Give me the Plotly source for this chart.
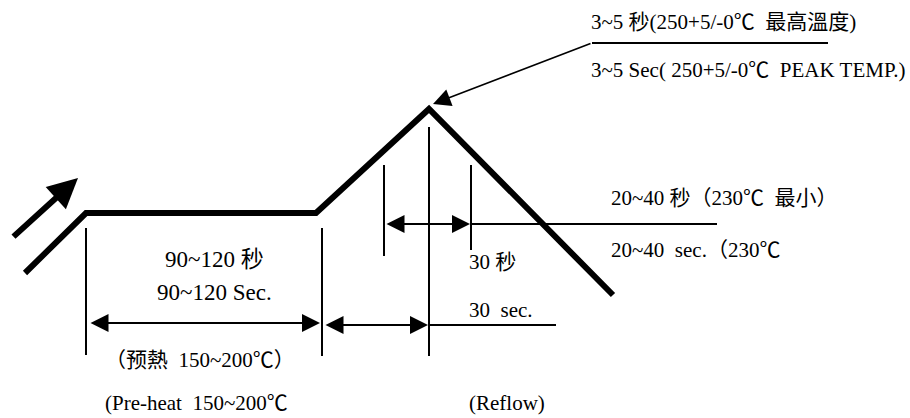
import plotly.graph_objects as go

# ---- diagram data (diagram units: x = time axis, y = temperature axis, drawn top-down) ----
profile_x = [25, 86, 316, 429, 613]
profile_y = [273, 213, 213, 109, 295]

rise_arrow_x = [12, 78]
rise_arrow_y = [238, 178]

# vertical reference lines
ref_x = [86, 322, 384, 429, 471]
ref_top = [228, 228, 165, 127, 165]
ref_bottom = [355, 356, 256, 356, 250]

# dimension arrows (start x, end x, y)
dim_x0 = [89, 324, 385]
dim_x1 = [320, 428, 470]
dim_y = [323, 325, 224]

# leader / extension lines
lead_x0 = [429, 471, 592]
lead_x1 = [556, 717, 828]
lead_y = [325, 224, 43]

peak_leader_tail = (592, 43)
peak_leader_tip = (433, 104)

# labels
label_text = [
    "3~5 秒(250+5/-0℃  最高溫度)",
    "3~5 Sec( 250+5/-0℃  PEAK TEMP.)",
    "20~40 秒（230℃  最小）",
    "20~40  sec.（230℃",
    "30 秒",
    "30  sec.",
    "(Reflow)",
    "（预熱  150~200℃）",
    "(Pre-heat  150~200℃",
]
label_x = [589, 589, 609, 609, 467, 467, 467, 103, 103]
label_y = [22, 70, 198, 250, 262, 310, 403, 360, 403]

center_text = ["90~120 秒", "90~120 Sec."]
center_x = [214, 214]
center_y = [259, 292]

FONT = "Liberation Serif, Noto Sans CJK SC, serif"

fig = go.Figure()

# profile
fig.add_trace(go.Scatter(x=profile_x, y=profile_y, mode="lines",
                         line=dict(color="black", width=6), hoverinfo="skip"))

shapes = []
for x, t, b in zip(ref_x, ref_top, ref_bottom):
    shapes.append(dict(type="line", xref="x", yref="y", x0=x, x1=x, y0=t, y1=b,
                       line=dict(color="black", width=2)))
for x0, x1, y in zip(lead_x0, lead_x1, lead_y):
    shapes.append(dict(type="line", xref="x", yref="y", x0=x0, x1=x1, y0=y, y1=y,
                       line=dict(color="black", width=2)))

annotations = []
# dimension arrows (double headed)
for x0, x1, y in zip(dim_x0, dim_x1, dim_y):
    annotations.append(dict(x=x1, y=y, ax=x0, ay=y, xref="x", yref="y", axref="x", ayref="y",
                            text="", showarrow=True, arrowside="end+start",
                            arrowhead=2, startarrowhead=2, arrowwidth=2,
                            arrowsize=1.8, startarrowsize=1.8, arrowcolor="black",
                            standoff=0, startstandoff=0))
# peak leader arrow
annotations.append(dict(x=peak_leader_tip[0], y=peak_leader_tip[1],
                        ax=peak_leader_tail[0], ay=peak_leader_tail[1],
                        xref="x", yref="y", axref="x", ayref="y", text="", showarrow=True,
                        arrowhead=2, arrowwidth=1.6, arrowsize=2.2, arrowcolor="black", standoff=0))
# rising thick arrow
annotations.append(dict(x=rise_arrow_x[1], y=rise_arrow_y[1], ax=rise_arrow_x[0], ay=rise_arrow_y[0],
                        xref="x", yref="y", axref="x", ayref="y", text="", showarrow=True,
                        arrowhead=2, arrowwidth=6, arrowsize=1.0, arrowcolor="black", standoff=0))

for t, x, y in zip(label_text, label_x, label_y):
    annotations.append(dict(x=x, y=y, xref="x", yref="y", text=t, showarrow=False,
                            xanchor="left", yanchor="middle",
                            font=dict(family=FONT, size=21, color="black")))
for t, x, y in zip(center_text, center_x, center_y):
    annotations.append(dict(x=x, y=y, xref="x", yref="y", text=t, showarrow=False,
                            xanchor="center", yanchor="middle",
                            font=dict(family=FONT, size=23, color="black")))

fig.update_layout(
    width=910, height=418,
    margin=dict(l=0, r=0, t=0, b=0),
    paper_bgcolor="white", plot_bgcolor="white",
    showlegend=False,
    xaxis=dict(range=[0, 910], visible=False, fixedrange=True),
    yaxis=dict(range=[418, 0], visible=False, fixedrange=True),
    shapes=shapes, annotations=annotations,
)

fig.write_html("out.html",
               config={"displayModeBar": False, "staticPlot": True},
               post_script="document.body.style.margin='0';document.body.style.overflow='hidden';")
